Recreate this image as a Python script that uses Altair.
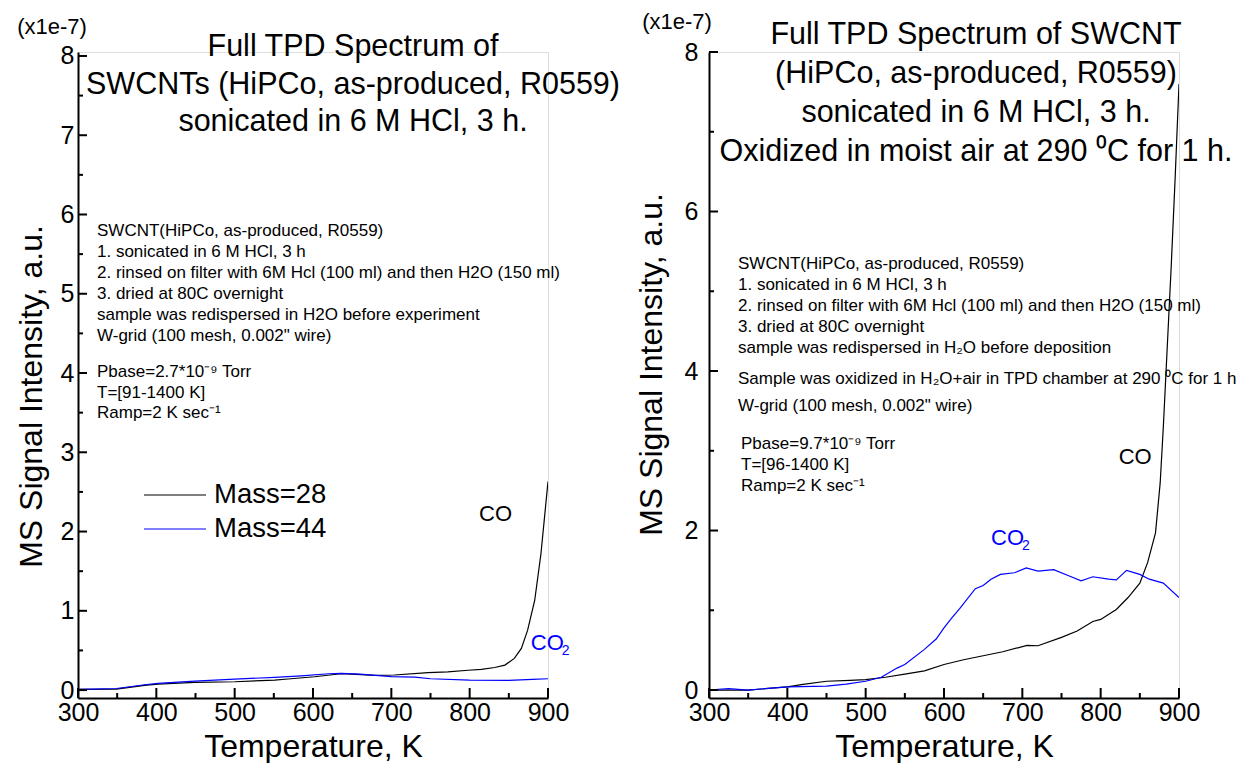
import altair as alt
import pandas as pd

FONT = "Liberation Sans"
BLACK = "#000000"
BLUE = "#0000ff"
TICK = "#000000"
SERIES = ["Mass=28", "Mass=44"]

# ---------------- data (x1e-7 units) ----------------
L_T28 = [300, 349, 385, 402, 449, 500, 551, 568, 602, 636, 649, 679, 704, 747, 772, 798,
         815, 832, 845, 857, 866, 874, 883, 891, 900]
L_V28 = [0.01, 0.013, 0.06, 0.076, 0.097, 0.105, 0.126, 0.14, 0.168, 0.206, 0.2, 0.185,
         0.19, 0.22, 0.23, 0.25, 0.26, 0.285, 0.315, 0.40, 0.525, 0.756, 1.13, 1.72, 2.63]
L_T44 = [300, 349, 385, 402, 449, 500, 551, 585, 620, 636, 660, 700, 730, 750, 800, 850, 880, 900]
L_V44 = [0.01, 0.02, 0.067, 0.084, 0.113, 0.139, 0.16, 0.18, 0.206, 0.21, 0.2, 0.17, 0.164,
         0.143, 0.126, 0.122, 0.134, 0.143]

R_T28 = [300, 350, 400, 420, 450, 480, 500, 525, 550, 575, 600, 625, 650, 675, 706, 720,
         750, 770, 790, 800, 820, 835, 850, 860, 870, 876, 880, 885, 890, 895, 900]
R_V28 = [0.0, 0.0, 0.04, 0.07, 0.11, 0.12, 0.13, 0.16, 0.2, 0.24, 0.32, 0.38, 0.43, 0.48,
         0.56, 0.555, 0.66, 0.74, 0.86, 0.885, 1.01, 1.16, 1.34, 1.6, 1.97, 2.6, 3.3, 4.3,
         5.3, 6.4, 7.6]
R_T44 = [300, 325, 350, 400, 450, 475, 500, 520, 540, 550, 575, 590, 600, 610, 620, 640,
         650, 660, 672, 690, 705, 720, 740, 760, 775, 790, 810, 820, 833, 850, 862, 880, 900]
R_V44 = [0.0, 0.017, 0.0, 0.04, 0.05, 0.075, 0.11, 0.16, 0.275, 0.32, 0.51, 0.64, 0.78,
         0.906, 1.02, 1.27, 1.31, 1.39, 1.45, 1.47, 1.53, 1.49, 1.51, 1.43, 1.37, 1.42,
         1.39, 1.38, 1.50, 1.45, 1.39, 1.34, 1.16]

X_MAJOR = [300, 400, 500, 600, 700, 800, 900]
X_MINOR = [350, 450, 550, 650, 750, 850]
L_Y_MAJOR = [0, 1, 2, 3, 4, 5, 6, 7, 8]
L_Y_MINOR = [0.5, 1.5, 2.5, 3.5, 4.5, 5.5, 6.5, 7.5]
R_Y_MAJOR = [0, 2, 4, 6, 8]
R_Y_MINOR = [1, 3, 5, 7]

L_TITLE = ["Full TPD Spectrum of", "SWCNTs (HiPCo, as-produced, R0559)",
           "sonicated in 6 M HCl, 3 h."]
R_TITLE = ["Full TPD Spectrum of SWCNT", "(HiPCo, as-produced, R0559)",
           "sonicated in 6 M HCl, 3 h.", "Oxidized in moist air at 290 \u2070C for 1 h."]
L_NOTE1 = ["SWCNT(HiPCo, as-produced, R0559)", "1. sonicated in 6 M HCl, 3 h",
           "2. rinsed on filter with 6M Hcl (100 ml) and then H2O (150 ml)",
           "3. dried at 80C overnight", "sample was redispersed in H2O before experiment",
           "W-grid (100 mesh, 0.002\" wire)"]
L_NOTE2 = ["Pbase=2.7*10\u207b\u2079 Torr", "T=[91-1400 K]", "Ramp=2 K sec\u207b\u00b9"]
R_NOTE1 = ["SWCNT(HiPCo, as-produced, R0559)", "1. sonicated in 6 M HCl, 3 h",
           "2. rinsed on filter with 6M Hcl (100 ml) and then H2O (150 ml)",
           "3. dried at 80C overnight", "sample was redispersed in H\u2082O before deposition"]
R_NOTE2 = ["Sample was oxidized in H\u2082O+air in TPD chamber at 290 \u2070C for 1 h"]
R_NOTE3 = ["W-grid (100 mesh, 0.002\" wire)"]
R_NOTE4 = ["Pbase=9.7*10\u207b\u2079 Torr", "T=[96-1400 K]", "Ramp=2 K sec\u207b\u00b9"]

L_CO_AT = (812, 2.22)
L_CO2_AT = (878, 0.60)
R_CO_AT = (823, 2.92)
R_CO2_AT = (660, 1.90)

W, H = 470, 646
NOTE = 17


def line_df(t28, v28, t44, v44):
    return pd.concat([
        pd.DataFrame({"T": t28, "V": v28, "series": SERIES[0]}),
        pd.DataFrame({"T": t44, "V": v44, "series": SERIES[1]}),
    ], ignore_index=True)


def text_block(lines, x, y0, step, size, color=BLACK, align="left", limit=None):
    df = pd.DataFrame({"txt": lines, "i": list(range(len(lines)))})
    kw = dict(align=align, baseline="middle", fontSize=size, color=color, font=FONT)
    if limit is not None:
        kw["limit"] = limit
        kw["ellipsis"] = ""
    return (alt.Chart(df)
            .transform_calculate(py=f"{y0} + datum.i * {step}")
            .mark_text(**kw)
            .encode(x=alt.value(x), y=alt.Y("py:Q", scale=None), text="txt:N"))


def data_label(at, txt, size, color, xs, ys, dx=0, dy=0):
    df = pd.DataFrame({"T": [at[0]], "V": [at[1]], "txt": [txt]})
    return (alt.Chart(df)
            .mark_text(align="left", baseline="middle", fontSize=size, color=color,
                       font=FONT, dx=dx, dy=dy)
            .encode(x=alt.X("T:Q", scale=xs), y=alt.Y("V:Q", scale=ys), text="txt:N"))


def panel(df, ydom, ymaj, ymin, ylab_pad, ytitle_x, ytitle_y, extra):
    xs = alt.Scale(domain=[300, 900], nice=False, zero=False)
    ys = alt.Scale(domain=ydom, nice=False, zero=False)
    color = alt.Color("series:N", scale=alt.Scale(domain=SERIES, range=[BLACK, BLUE]),
                      legend=None)
    xaxis = alt.Axis(values=X_MAJOR, format="d", title="Temperature, K", ticks=False,
                     tickSize=0, domainColor=BLACK, domainWidth=2, labelFontSize=25,
                     labelPadding=2, labelFlush=False, labelOverlap=False,
                     labelColor=BLACK, titleFontSize=32, titleFontWeight="normal",
                     titleColor=BLACK, titleY=48, titleBaseline="middle", grid=False)
    yaxis = alt.Axis(values=ymaj, format="d", title="MS Signal Intensity, a.u.",
                     ticks=False, tickSize=0, domainColor=BLACK, domainWidth=2,
                     labelFontSize=25, labelPadding=ylab_pad, labelOverlap=False,
                     labelColor=BLACK, titleFontSize=32, titleFontWeight="normal",
                     titleColor=BLACK, titleX=ytitle_x, titleY=ytitle_y,
                     titleBaseline="middle", titleAlign="center", grid=False)
    lines = alt.Chart(df).mark_line(strokeWidth=1.2, clip=True).encode(
        x=alt.X("T:Q", scale=xs, axis=xaxis),
        y=alt.Y("V:Q", scale=ys, axis=yaxis),
        color=color)

    # inward-pointing tick marks drawn through the panel's scales
    def xticks(vals, size):
        return (alt.Chart(pd.DataFrame({"tx": vals}))
                .mark_rule(strokeWidth=2, color=TICK)
                .encode(x=alt.X("tx:Q", scale=xs),
                        y=alt.value(H), y2=alt.value(H - size)))

    def yticks(vals, size):
        return (alt.Chart(pd.DataFrame({"ty": vals}))
                .mark_rule(strokeWidth=2, color=TICK)
                .encode(y=alt.Y("ty:Q", scale=ys),
                        x=alt.value(0), x2=alt.value(size)))

    layers = [lines] + extra(xs, ys) + [xticks(X_MAJOR, 10), xticks(X_MINOR, 5),
                                        yticks(ymaj, 9), yticks(ymin, 5)]
    return alt.layer(*layers).properties(width=W, height=H)


def left_extra(xs, ys):
    leg = pd.DataFrame({"series": SERIES, "k": [0, 1]})
    leg_rules = (alt.Chart(leg)
                 .transform_calculate(py="443 + datum.k * 34")
                 .mark_rule(strokeWidth=1.2)
                 .encode(x=alt.value(66), x2=alt.value(128),
                         y=alt.Y("py:Q", scale=None),
                         color=alt.Color("series:N",
                                         scale=alt.Scale(domain=SERIES, range=[BLACK, BLUE]),
                                         legend=None)))
    leg_text = text_block(SERIES, 136, 443, 34, 27.5)
    return [
        text_block(["(x1e-7)"], -26, -25, 0, 22, align="center"),
        text_block(L_TITLE, 275, -5, 37.5, 30.5, align="center"),
        text_block(L_NOTE1, 19, 179, 21, NOTE),
        text_block(L_NOTE2, 19, 320, 20.5, NOTE),
        leg_rules, leg_text,
        data_label(L_CO_AT, "CO", 22, BLACK, xs, ys),
        data_label(L_CO2_AT, "CO", 22, BLUE, xs, ys),
        data_label(L_CO2_AT, "2", 14, BLUE, xs, ys, dx=31, dy=8),
    ]


def right_extra(xs, ys):
    return [
        text_block(["(x1e-7)"], -32, -30, 0, 22, align="center"),
        text_block(R_TITLE, 267, -17, 39, 30.5, align="center"),
        text_block(R_NOTE1, 29, 212, 21, NOTE),
        text_block(R_NOTE2, 29, 327, 0, NOTE, limit=504),
        text_block(R_NOTE3, 29, 354, 0, NOTE),
        text_block(R_NOTE4, 32, 392, 21, NOTE),
        data_label(R_CO_AT, "CO", 22, BLACK, xs, ys),
        data_label(R_CO2_AT, "CO", 22, BLUE, xs, ys),
        data_label(R_CO2_AT, "2", 14, BLUE, xs, ys, dx=31, dy=8),
    ]


left = panel(line_df(L_T28, L_V28, L_T44, L_V44), [-0.1, 8.05], L_Y_MAJOR, L_Y_MINOR,
             4, -47, 344, left_extra)
right = panel(line_df(R_T28, R_V28, R_T44, R_V44), [-0.1, 8.0], R_Y_MAJOR, R_Y_MINOR,
              11, -58, 312, right_extra)

chart = (alt.hconcat(left, right, spacing=161, bounds="flush")
         .properties(padding={"left": 14, "top": 10, "right": 0, "bottom": 0},
                     background="white")
         .configure_view(stroke="transparent", strokeWidth=0)
         .configure(font=FONT))

chart.save("out.html", embed_options={"renderer": "svg", "actions": False})
